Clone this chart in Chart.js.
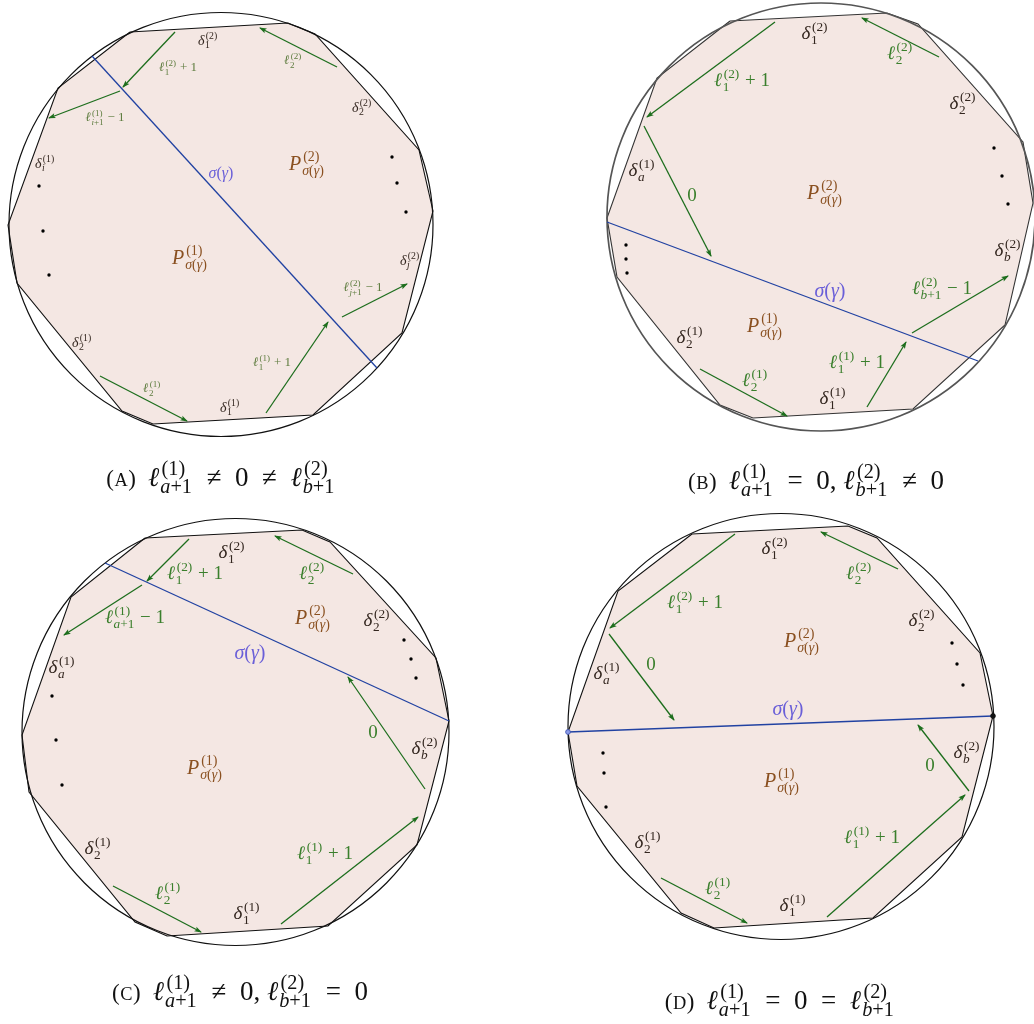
<!DOCTYPE html>
<html>
<head>
<meta charset="utf-8">
<script src="https://cdn.jsdelivr.net/npm/chart.js@4.4.0/dist/chart.umd.min.js"></script>
<style>
  html, body { margin: 0; padding: 0; background: #fff; }
  #wrap { width: 1034px; height: 1024px; }
</style>
</head>
<body>
<div id="wrap"><canvas id="fig" width="1034" height="1024"></canvas></div>
<script>
// figure coordinates: x to the right, y downwards (1034 x 1024 units)

// panel A
const circleA = [{ x: 221, y: 224.5, r: 212 }];
const polyA = [[130, 32], [288, 23], [315, 34], [419, 150], [433, 211], [402, 333], [313, 415], [153, 424], [122, 411], [17, 283], [8, 225], [58, 88]];
const gammaA = [[92, 56], [377, 368]];
const arrowsA = [[175, 32, 123, 87], [120, 91, 49, 118], [337, 67, 260, 28], [342, 317, 407, 284], [266, 413, 328, 322], [100, 376, 187, 421]];
const dotsA = [[39, 186], [43, 231], [49, 275], [392, 157], [397, 183], [406, 212]];

// panel B
const circleB = [{ x: 821, y: 217, r: 214 }];
const polyB = [[730, 21], [887, 13], [918, 24], [1023, 142], [1033, 203], [1005, 325], [913, 409], [753, 418], [720, 405], [617, 277], [607, 218], [657, 78]];
const gammaB = [[607, 222], [978, 361]];
const arrowsB = [[775, 22, 647, 117], [644, 126, 711, 256], [939, 57, 862, 18], [912, 333, 1008, 276], [867, 407, 906, 342], [700, 369, 787, 416]];
const dotsB = [[994, 148], [1002, 176], [1008, 204], [626, 245], [626, 259], [627, 273]];

// panel C
const circleC = [{ x: 235.5, y: 732, r: 213.5 }];
const polyC = [[145, 538], [302, 530], [330, 542], [436, 658], [449, 721], [417, 845], [328, 926], [167, 936], [135, 922], [29, 792], [22, 735], [71, 597]];
const gammaC = [[105, 563], [449, 721]];
const arrowsC = [[189, 539, 147, 581], [142, 585, 64, 635], [353, 574, 275, 536], [425, 789, 348, 677], [281, 924, 418, 817], [113, 886, 201, 932]];
const dotsC = [[52, 696], [56, 740], [62, 785], [404, 640], [411, 659], [416, 678]];

// panel D
const circleD = [{ x: 781, y: 726.5, r: 213 }];
const polyD = [[692, 534], [848, 526], [877, 538], [980, 653], [993, 716], [962, 837], [873, 918], [714, 928], [681, 913], [577, 786], [568, 732], [618, 591]];
const gammaD = [[568, 732], [993, 716]];
const arrowsD = [[735, 534, 610, 628], [609, 634, 674, 720], [898, 569, 821, 532], [969, 791, 918, 725], [827, 917, 965, 795], [661, 878, 747, 923]];
const dotsD = [[603, 753], [604, 773], [606, 807], [952, 643], [957, 664], [963, 685]];
const endsD = [[568, 732], [993, 716]];

// labels: k = d (delta), l (green length), P (region), s (sigma gamma)
const labelsA = [
  { x: 208, y: 40, k: 'd', m: [{ b: 'δ', sup: '(2)', sub: '1' }] },
  { x: 178, y: 67, k: 'l', m: [{ b: 'ℓ', sup: '(2)', sub: '1' }, ' + 1'] },
  { x: 293, y: 60, k: 'l', m: [{ b: 'ℓ', sup: '(2)', sub: '2' }] },
  { x: 362, y: 107, k: 'd', m: [{ b: 'δ', sup: '(2)', sub: '2' }] },
  { x: 105, y: 117, k: 'l', m: [{ b: 'ℓ', sup: '(1)', sub: 'i+1' }, ' − 1'] },
  { x: 45, y: 163, k: 'd', m: [{ b: 'δ', sup: '(1)', sub: 'i' }] },
  { x: 221, y: 173, k: 's', m: ['σ(γ)'] },
  { x: 307, y: 163, k: 'P', m: [{ b: 'P', sup: '(2)', sub: 'σ(γ)' }] },
  { x: 190, y: 257, k: 'P', m: [{ b: 'P', sup: '(1)', sub: 'σ(γ)' }] },
  { x: 410, y: 260, k: 'd', m: [{ b: 'δ', sup: '(2)', sub: 'j' }] },
  { x: 363, y: 287, k: 'l', m: [{ b: 'ℓ', sup: '(2)', sub: 'j+1' }, ' − 1'] },
  { x: 82, y: 342, k: 'd', m: [{ b: 'δ', sup: '(1)', sub: '2' }] },
  { x: 272, y: 362, k: 'l', m: [{ b: 'ℓ', sup: '(1)', sub: '1' }, ' + 1'] },
  { x: 152, y: 388, k: 'l', m: [{ b: 'ℓ', sup: '(1)', sub: '2' }] },
  { x: 230, y: 407, k: 'd', m: [{ b: 'δ', sup: '(1)', sub: '1' }] }
];
const labelsB = [
  { x: 815, y: 33, k: 'd', m: [{ b: 'δ', sup: '(2)', sub: '1' }] },
  { x: 900, y: 53, k: 'l', m: [{ b: 'ℓ', sup: '(2)', sub: '2' }] },
  { x: 742, y: 80, k: 'l', m: [{ b: 'ℓ', sup: '(2)', sub: '1' }, ' + 1'] },
  { x: 963, y: 103, k: 'd', m: [{ b: 'δ', sup: '(2)', sub: '2' }] },
  { x: 642, y: 170, k: 'd', m: [{ b: 'δ', sup: '(1)', sub: 'a' }] },
  { x: 692, y: 195, k: 'l', m: ['0'] },
  { x: 825, y: 192, k: 'P', m: [{ b: 'P', sup: '(2)', sub: 'σ(γ)' }] },
  { x: 830, y: 290, k: 's', m: ['σ(γ)'] },
  { x: 765, y: 325, k: 'P', m: [{ b: 'P', sup: '(1)', sub: 'σ(γ)' }] },
  { x: 1008, y: 250, k: 'd', m: [{ b: 'δ', sup: '(2)', sub: 'b' }] },
  { x: 942, y: 288, k: 'l', m: [{ b: 'ℓ', sup: '(2)', sub: 'b+1' }, ' − 1'] },
  { x: 690, y: 337, k: 'd', m: [{ b: 'δ', sup: '(1)', sub: '2' }] },
  { x: 857, y: 362, k: 'l', m: [{ b: 'ℓ', sup: '(1)', sub: '1' }, ' + 1'] },
  { x: 755, y: 380, k: 'l', m: [{ b: 'ℓ', sup: '(1)', sub: '2' }] },
  { x: 833, y: 398, k: 'd', m: [{ b: 'δ', sup: '(1)', sub: '1' }] }
];
const labelsC = [
  { x: 232, y: 552, k: 'd', m: [{ b: 'δ', sup: '(2)', sub: '1' }] },
  { x: 195, y: 573, k: 'l', m: [{ b: 'ℓ', sup: '(2)', sub: '1' }, ' + 1'] },
  { x: 312, y: 573, k: 'l', m: [{ b: 'ℓ', sup: '(2)', sub: '2' }] },
  { x: 135, y: 617, k: 'l', m: [{ b: 'ℓ', sup: '(1)', sub: 'a+1' }, ' − 1'] },
  { x: 313, y: 617, k: 'P', m: [{ b: 'P', sup: '(2)', sub: 'σ(γ)' }] },
  { x: 377, y: 620, k: 'd', m: [{ b: 'δ', sup: '(2)', sub: '2' }] },
  { x: 250, y: 652, k: 's', m: ['σ(γ)'] },
  { x: 62, y: 667, k: 'd', m: [{ b: 'δ', sup: '(1)', sub: 'a' }] },
  { x: 373, y: 732, k: 'l', m: ['0'] },
  { x: 425, y: 748, k: 'd', m: [{ b: 'δ', sup: '(2)', sub: 'b' }] },
  { x: 205, y: 767, k: 'P', m: [{ b: 'P', sup: '(1)', sub: 'σ(γ)' }] },
  { x: 98, y: 848, k: 'd', m: [{ b: 'δ', sup: '(1)', sub: '2' }] },
  { x: 325, y: 853, k: 'l', m: [{ b: 'ℓ', sup: '(1)', sub: '1' }, ' + 1'] },
  { x: 168, y: 893, k: 'l', m: [{ b: 'ℓ', sup: '(1)', sub: '2' }] },
  { x: 247, y: 913, k: 'd', m: [{ b: 'δ', sup: '(1)', sub: '1' }] }
];
const labelsD = [
  { x: 775, y: 548, k: 'd', m: [{ b: 'δ', sup: '(2)', sub: '1' }] },
  { x: 859, y: 573, k: 'l', m: [{ b: 'ℓ', sup: '(2)', sub: '2' }] },
  { x: 695, y: 602, k: 'l', m: [{ b: 'ℓ', sup: '(2)', sub: '1' }, ' + 1'] },
  { x: 922, y: 620, k: 'd', m: [{ b: 'δ', sup: '(2)', sub: '2' }] },
  { x: 802, y: 640, k: 'P', m: [{ b: 'P', sup: '(2)', sub: 'σ(γ)' }] },
  { x: 607, y: 673, k: 'd', m: [{ b: 'δ', sup: '(1)', sub: 'a' }] },
  { x: 651, y: 664, k: 'l', m: ['0'] },
  { x: 788, y: 708, k: 's', m: ['σ(γ)'] },
  { x: 930, y: 765, k: 'l', m: ['0'] },
  { x: 967, y: 752, k: 'd', m: [{ b: 'δ', sup: '(2)', sub: 'b' }] },
  { x: 782, y: 780, k: 'P', m: [{ b: 'P', sup: '(1)', sub: 'σ(γ)' }] },
  { x: 648, y: 842, k: 'd', m: [{ b: 'δ', sup: '(1)', sub: '2' }] },
  { x: 872, y: 837, k: 'l', m: [{ b: 'ℓ', sup: '(1)', sub: '1' }, ' + 1'] },
  { x: 718, y: 888, k: 'l', m: [{ b: 'ℓ', sup: '(1)', sub: '2' }] },
  { x: 793, y: 905, k: 'd', m: [{ b: 'δ', sup: '(1)', sub: '1' }] }
];

// sub-figure captions
const captions = [
  { x: 221, y: 486, m: [{ tag: 'A' }, { b: 'ℓ', sup: '(1)', sub: 'a+1' }, '  ≠  0  ≠  ', { b: 'ℓ', sup: '(2)', sub: 'b+1' }] },
  { x: 816, y: 489, m: [{ tag: 'B' }, { b: 'ℓ', sup: '(1)', sub: 'a+1' }, '  =  0, ', { b: 'ℓ', sup: '(2)', sub: 'b+1' }, '  ≠  0'] },
  { x: 240, y: 1000, m: [{ tag: 'C' }, { b: 'ℓ', sup: '(1)', sub: 'a+1' }, '  ≠  0, ', { b: 'ℓ', sup: '(2)', sub: 'b+1' }, '  =  0'] },
  { x: 780, y: 1009, m: [{ tag: 'D' }, { b: 'ℓ', sup: '(1)', sub: 'a+1' }, '  =  0  =  ', { b: 'ℓ', sup: '(2)', sub: 'b+1' }] }
];

const FILL = 'rgb(244,231,227)';
const GREEN = '#1d6e1d';
const BLUE = '#2142a2';
const SERIF = '"Liberation Serif", "DejaVu Serif", serif';

const sizesSmall = { d: 14, l: 13, P: 20, s: 16 };
const sizesLarge = { d: 19, l: 19, P: 20, s: 20 };
const colors = { d: '#33261f', l: '#3a7f2c', P: '#8a5020', s: '#6a5fd8' };

const panels = [
  { circle: circleA, poly: polyA, gamma: gammaA, arrows: arrowsA, dots: dotsA, labels: labelsA, sizes: sizesSmall, ring: '#111', ringW: 1.2, edge: '#111', lc: '#5f7d40' },
  { circle: circleB, poly: polyB, gamma: gammaB, arrows: arrowsB, dots: dotsB, labels: labelsB, sizes: sizesLarge, ring: '#555', ringW: 1.7, edge: '#333', lc: colors.l },
  { circle: circleC, poly: polyC, gamma: gammaC, arrows: arrowsC, dots: dotsC, labels: labelsC, sizes: sizesLarge, ring: '#111', ringW: 1.2, edge: '#111', lc: colors.l },
  { circle: circleD, poly: polyD, gamma: gammaD, arrows: arrowsD, dots: dotsD, labels: labelsD, sizes: sizesLarge, ring: '#111', ringW: 1.2, edge: '#111', lc: colors.l }
];

const pts = arr => arr.map(p => ({ x: p[0], y: p[1] }));

const datasets = [];
panels.forEach(p => {
  const ring = pts(p.poly);
  ring.push({ x: p.poly[0][0], y: p.poly[0][1] });
  datasets.push({
    type: 'scatter', data: ring, showLine: true, fill: 'shape',
    backgroundColor: FILL, borderColor: p.edge, borderWidth: 1.1,
    pointRadius: 0, order: 10
  });
  datasets.push({
    type: 'bubble', data: p.circle, backgroundColor: 'rgba(0,0,0,0)',
    borderColor: p.ring, borderWidth: p.ringW, order: 9
  });
  datasets.push({
    type: 'scatter', data: pts(p.gamma), showLine: true,
    borderColor: BLUE, borderWidth: 1.3, pointRadius: 0, order: 5
  });
  p.arrows.forEach(a => {
    datasets.push({
      type: 'scatter', data: [{ x: a[0], y: a[1] }, { x: a[2], y: a[3] }], showLine: true,
      borderColor: GREEN, borderWidth: 1.3, pointRadius: 0, order: 4, arrow: true
    });
  });
  datasets.push({
    type: 'scatter', data: pts(p.dots), backgroundColor: '#000', borderWidth: 0,
    pointRadius: 1.7, order: 3
  });
});
datasets.push({
  type: 'scatter', data: pts(endsD), backgroundColor: ['#8a9ae6', '#111'],
  borderColor: ['#3a4fb0', '#111'], borderWidth: 0.8, pointRadius: 2.4, order: 2
});

// math-ish text helpers
function isLetter(c) { return /[A-Za-z\u03b1-\u03c9\u2113]/.test(c); }
function run(ctx, s, size, draw, x, y, upright) {
  let w = 0;
  for (const c of s) {
    ctx.font = ((!upright && isLetter(c)) ? 'italic ' : '') + size + 'px ' + SERIF;
    if (draw) ctx.fillText(c, x + w, y);
    w += ctx.measureText(c).width;
  }
  return w;
}
function seq(ctx, parts, x, y, size, draw, scr) {
  const k = scr || 0.7;
  let w = 0;
  for (const p of parts) {
    if (typeof p === 'string') {
      w += run(ctx, p, size, draw, x + w, y, false);
    } else if (p.tag) {
      // "(A)" with a small-capital letter
      const ps = size * 0.85;
      w += run(ctx, '(', ps, draw, x + w, y, true);
      w += run(ctx, p.tag, ps * 0.8, draw, x + w + 0.5, y, true) + 1;
      w += run(ctx, ')', ps, draw, x + w, y, true);
      w += size * 0.45;
    } else {
      w += run(ctx, p.b, size, draw, x + w, y, false) + size * 0.04;
      const s = size * k;
      const w1 = run(ctx, p.sup, s, draw, x + w + size * 0.05, y - size * 0.42, false) + size * 0.05;
      const w2 = run(ctx, p.sub, s, draw, x + w, y + size * 0.26, false);
      w += Math.max(w1, w2) + size * 0.05;
    }
  }
  return w;
}

const arrowHeads = {
  id: 'arrowHeads',
  afterDatasetsDraw(chart) {
    const ctx = chart.ctx;
    chart.data.datasets.forEach((ds, i) => {
      if (!ds.arrow) return;
      const meta = chart.getDatasetMeta(i);
      const a = meta.data[0], b = meta.data[1];
      const ang = Math.atan2(b.y - a.y, b.x - a.x);
      ctx.save();
      ctx.translate(b.x, b.y);
      ctx.rotate(ang);
      ctx.fillStyle = ds.borderColor;
      ctx.beginPath();
      ctx.moveTo(1, 0);
      ctx.lineTo(-6.5, 2.6);
      ctx.lineTo(-5, 0);
      ctx.lineTo(-6.5, -2.6);
      ctx.closePath();
      ctx.fill();
      ctx.restore();
    });
  }
};

const mathLabels = {
  id: 'mathLabels',
  afterDraw(chart) {
    const ctx = chart.ctx;
    const sx = chart.scales.x, sy = chart.scales.y;
    ctx.save();
    ctx.textBaseline = 'alphabetic';
    panels.forEach(p => {
      p.labels.forEach(l => {
        const size = p.sizes[l.k];
        ctx.fillStyle = l.k === 'l' ? p.lc : colors[l.k];
        const px = sx.getPixelForValue(l.x), py = sy.getPixelForValue(l.y);
        const w = seq(ctx, l.m, 0, 0, size, false);
        seq(ctx, l.m, px - w / 2, py + size * 0.33, size, true);
      });
    });
    ctx.fillStyle = '#111';
    captions.forEach(c => {
      const size = 27;
      const px = sx.getPixelForValue(c.x), py = sy.getPixelForValue(c.y);
      const w = seq(ctx, c.m, 0, 0, size, false, 0.75);
      seq(ctx, c.m, px - w / 2, py, size, true, 0.75);
    });
    ctx.restore();
  }
};

new Chart(document.getElementById('fig'), {
  type: 'scatter',
  data: { datasets },
  options: {
    responsive: false,
    animation: false,
    events: [],
    layout: { padding: 0, autoPadding: false },
    plugins: { legend: { display: false }, tooltip: { enabled: false } },
    scales: {
      x: { type: 'linear', min: 0, max: 1034, display: false },
      y: { type: 'linear', min: 0, max: 1024, reverse: true, display: false }
    }
  },
  plugins: [arrowHeads, mathLabels]
});
</script>
</body>
</html>
